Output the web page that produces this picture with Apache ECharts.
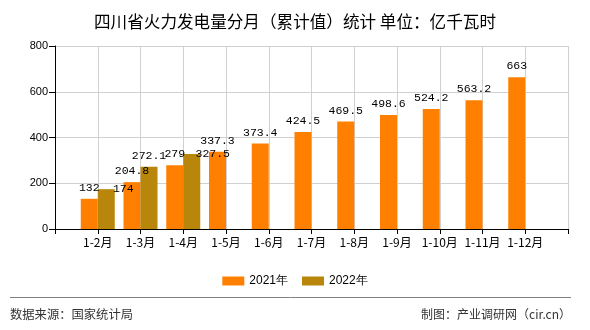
<!DOCTYPE html>
<html>
<head>
<meta charset="utf-8">
<script src="https://cdn.jsdelivr.net/npm/echarts@6/dist/echarts.min.js"></script>
<style>html,body{margin:0;padding:0;background:#fff}#c{width:590px;height:330px}</style>
</head>
<body>
<div id="c"></div>
<script>
var categories = ['', '1-2月', '1-3月', '1-4月', '1-5月', '1-6月', '1-7月', '1-8月', '1-9月', '1-10月', '1-11月', '1-12月', ''];
var values2021 = [null, 132, 204.8, 279, 337.3, 373.4, 424.5, 469.5, 498.6, 524.2, 563.2, 663, null];
var values2022 = [null, 174, 272.1, 327.5, null, null, null, null, null, null, null, null, null];
var yTicks = [0, 200, 400, 600, 800];

var chart = echarts.init(document.getElementById('c'));
var shifted = {1: [17, 11], 3: [21, 11]};
var data2022 = values2022.map(function (v, i) {
  if (shifted[i]) return {value: v, label: {offset: shifted[i]}};
  return v;
});
var labelStyle = {show: true, position: 'top', distance: 5, color: '#000', fontSize: 11.5, fontFamily: 'Liberation Mono'};
chart.setOption({
  animation: false,
  title: {
    text: '四川省火力发电量分月（累计值）统计 单位：亿千瓦时',
    left: 'center', top: 8,
    textStyle: {fontSize: 16.6, fontWeight: 'normal', color: '#000', fontFamily: 'Noto Sans CJK SC'}
  },
  legend: {
    left: 'center', top: 270, itemWidth: 22, itemHeight: 9, itemGap: 14,
    textStyle: {fontSize: 12, color: '#000', fontFamily: 'Liberation Sans'},
    data: [{name: '2021年', icon: 'rect'}, {name: '2022年', icon: 'rect'}]
  },
  grid: {left: 55, right: 22, top: 46, bottom: 101},
  xAxis: {
    type: 'category', data: categories, boundaryGap: false,
    axisLine: {lineStyle: {color: '#000', width: 1}},
    axisTick: {show: true, length: 5, lineStyle: {color: '#000'}},
    axisLabel: {color: '#000', fontSize: 12, margin: 7, fontFamily: 'Noto Sans CJK SC', interval: 0},
    splitLine: {show: true, lineStyle: {color: '#d0d0d0'}}
  },
  yAxis: {
    type: 'value', min: yTicks[0], max: yTicks[yTicks.length - 1], interval: 200,
    axisLine: {show: true, lineStyle: {color: '#000', width: 1}},
    axisTick: {show: true, length: 6, lineStyle: {color: '#000'}},
    axisLabel: {color: '#000', fontSize: 11, margin: 7, fontFamily: 'Liberation Sans'},
    splitLine: {show: true, lineStyle: {color: '#d0d0d0'}}
  },
  series: [
    {name: '2021年', type: 'bar', data: values2021, barWidth: 17, barGap: '0%',
     itemStyle: {color: '#FF8000'}, label: labelStyle},
    {name: '2022年', type: 'bar', data: data2022, barWidth: 17, barGap: '0%',
     itemStyle: {color: '#B8860B'}, label: labelStyle}
  ],
  graphic: [
    {type: 'line', shape: {x1: 10, y1: 297.5, x2: 571, y2: 297.5}, style: {stroke: '#808080', lineWidth: 1}},
    {type: 'text', left: 10, top: 308, style: {text: '数据来源：国家统计局', fontSize: 12.3, fill: '#333', fontFamily: 'Noto Sans CJK SC'}},
    {type: 'text', right: 19, top: 308, style: {text: '制图：产业调研网（cir.cn）', fontSize: 12, fill: '#333', fontFamily: 'Noto Sans CJK SC'}}
  ]
});
</script>
</body>
</html>
